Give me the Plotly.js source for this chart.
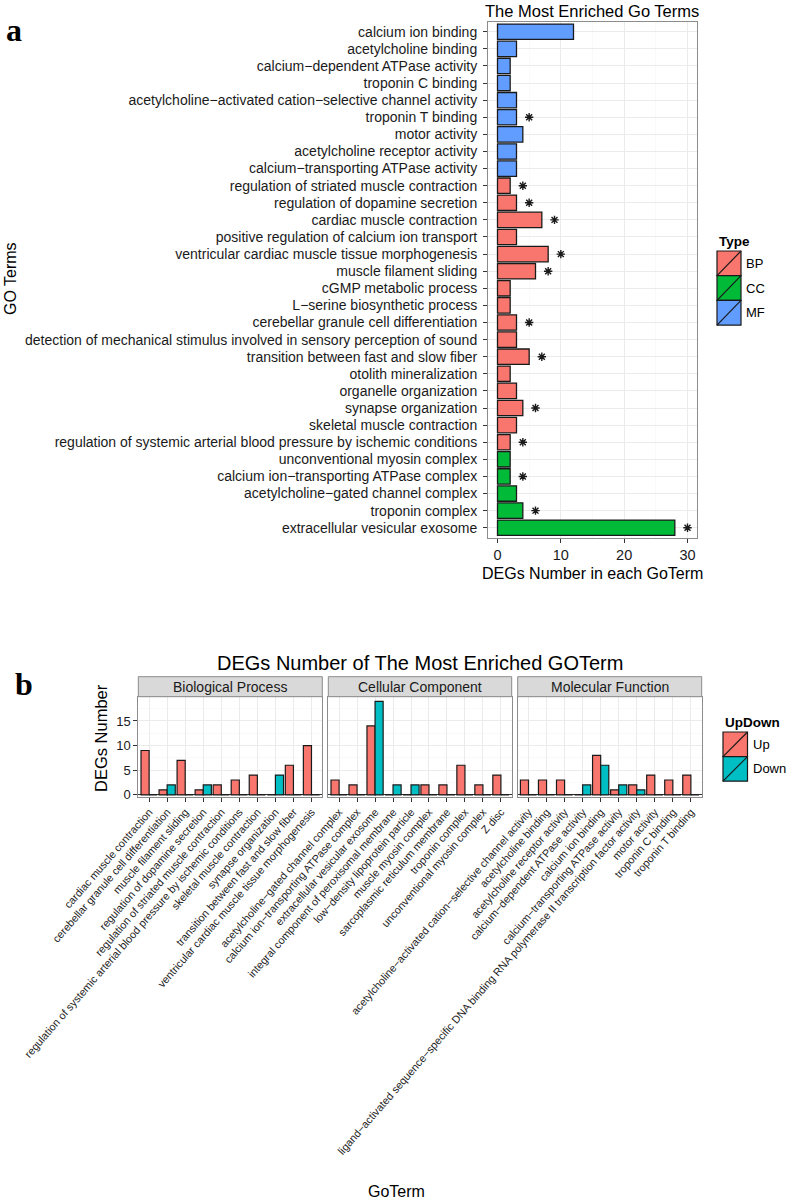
<!DOCTYPE html>
<html><head><meta charset="utf-8">
<script src="https://cdn.plot.ly/plotly-3.0.1.min.js"></script>
<style>html,body{margin:0;padding:0;background:#fff}#chart{width:787px;height:1202px}</style>
</head><body><div id="chart"></div>
<script>
// ---------- Panel a data (top to bottom) ----------
const goTerms = [
  "calcium ion binding",
  "acetylcholine binding",
  "calcium\u2212dependent ATPase activity",
  "troponin C binding",
  "acetylcholine\u2212activated cation\u2212selective channel activity",
  "troponin T binding",
  "motor activity",
  "acetylcholine receptor activity",
  "calcium\u2212transporting ATPase activity",
  "regulation of striated muscle contraction",
  "regulation of dopamine secretion",
  "cardiac muscle contraction",
  "positive regulation of calcium ion transport",
  "ventricular cardiac muscle tissue morphogenesis",
  "muscle filament sliding",
  "cGMP metabolic process",
  "L\u2212serine biosynthetic process",
  "cerebellar granule cell differentiation",
  "detection of mechanical stimulus involved in sensory perception of sound",
  "transition between fast and slow fiber",
  "otolith mineralization",
  "organelle organization",
  "synapse organization",
  "skeletal muscle contraction",
  "regulation of systemic arterial blood pressure by ischemic conditions",
  "unconventional myosin complex",
  "calcium ion\u2212transporting ATPase complex",
  "acetylcholine\u2212gated channel complex",
  "troponin complex",
  "extracellular vesicular exosome"
];
const goCounts = [12,3,2,2,3,3,4,3,3,2,3,7,3,8,6,2,2,3,3,5,2,3,4,3,2,2,2,3,4,28];
const goTypes = ["MF","MF","MF","MF","MF","MF","MF","MF","MF",
  "BP","BP","BP","BP","BP","BP","BP","BP","BP","BP","BP","BP","BP","BP","BP","BP",
  "CC","CC","CC","CC","CC"];
const goSignificant = [0,0,0,0,0,1,0,0,0,1,1,1,0,1,1,0,0,1,0,1,0,0,1,0,1,0,1,0,1,1];
const typeLevels = ["BP","CC","MF"];

// ---------- Panel b data ----------
const bpTerms = [
  "cardiac muscle contraction",
  "cerebellar granule cell differentiation",
  "muscle filament sliding",
  "regulation of dopamine secretion",
  "regulation of striated muscle contraction",
  "regulation of systemic arterial blood pressure by ischemic conditions",
  "skeletal muscle contraction",
  "synapse organization",
  "transition between fast and slow fiber",
  "ventricular cardiac muscle tissue morphogenesis"
];
const bpUp   = [9,1,7,1,2,3,4,0,6,10];
const bpDown = [0,2,0,2,0,0,0,4,0,0];

const ccTerms = [
  "acetylcholine\u2212gated channel complex",
  "calcium ion\u2212transporting ATPase complex",
  "extracellular vesicular exosome",
  "integral component of peroxisomal membrane",
  "low\u2212density lipoprotein particle",
  "muscle myosin complex",
  "sarcoplasmic reticulum membrane",
  "troponin complex",
  "unconventional myosin complex",
  "Z disc"
];
const ccUp   = [3,2,14,0,0,2,2,6,2,4];
const ccDown = [0,0,19,2,2,0,0,0,0,0];

const mfTerms = [
  "acetylcholine\u2212activated cation\u2212selective channel activity",
  "acetylcholine binding",
  "acetylcholine receptor activity",
  "calcium\u2212dependent ATPase activity",
  "calcium ion binding",
  "calcium\u2212transporting ATPase activity",
  "ligand\u2212activated sequence\u2212specific DNA binding RNA polymerase II transcription factor activity",
  "motor activity",
  "troponin C binding",
  "troponin T binding"
];
const mfUp   = [3,3,3,0,8,1,2,4,3,4];
const mfDown = [0,0,0,2,6,2,1,0,0,0];

const facetNames = ["Biological Process","Cellular Component","Molecular Function"];
const upDownLevels = ["Up","Down"];

// ---------- styling ----------
const W = 787, H = 1202;
const fx = p => p / W;
const fy = p => 1 - p / H;
const FONT = "Liberation Sans, Arial, Helvetica, sans-serif";
const typeColor = {BP:"#F8766D", CC:"#00BA38", MF:"#619CFF"};
const udColor = {Up:"#F8766D", Down:"#00BFC4"};
const gridMajor = "#EBEBEB", gridMinor = "#F7F7F7", frameCol = "#8C8C8C";
const txtCol = "#1a1a1a";

const traces = [];

// Panel a bars
traces.push({
  type:"bar", orientation:"h", x: goCounts, y: goTerms,
  xaxis:"x", yaxis:"y",
  marker:{color: goTypes.map(t => typeColor[t]), line:{color:"#1a1a1a", width:1.3}},
  hoverinfo:"x+y", showlegend:false
});
// Panel a significance stars
const starX = [], starY = [];
goSignificant.forEach((s,i) => { if (s) { starX.push(goCounts[i] + 2); starY.push(goTerms[i]); } });
traces.push({
  type:"scatter", mode:"markers", x: starX, y: starY, xaxis:"x", yaxis:"y",
  marker:{symbol:"asterisk-open", size:7, color:"#1a1a1a", line:{color:"#1a1a1a", width:1.4}},
  hoverinfo:"skip", showlegend:false
});

// Panel b bars
const facets = [
  {terms:bpTerms, up:bpUp, down:bpDown, xa:"x2", ya:"y2"},
  {terms:ccTerms, up:ccUp, down:ccDown, xa:"x3", ya:"y3"},
  {terms:mfTerms, up:mfUp, down:mfDown, xa:"x4", ya:"y4"}
];
facets.forEach(f => {
  traces.push({type:"bar", name:"Up", x:f.terms, y:f.up, xaxis:f.xa, yaxis:f.ya,
    marker:{color:udColor.Up, line:{color:"#1a1a1a", width:1.2}}, showlegend:false, offsetgroup:"Up"});
  traces.push({type:"bar", name:"Down", x:f.terms, y:f.down, xaxis:f.xa, yaxis:f.ya,
    marker:{color:udColor.Down, line:{color:"#1a1a1a", width:1.2}}, showlegend:false, offsetgroup:"Down"});
});

// ---------- axes ----------
const baseAxis = {
  showline:true, mirror:true, linecolor:frameCol, linewidth:1,
  ticks:"outside", ticklen:4, tickcolor:"#333", tickwidth:1,
  showgrid:true, gridcolor:gridMajor, gridwidth:1, zeroline:false,
  automargin:false, fixedrange:true
};

const layout = {
  width:W, height:H, margin:{l:0,r:0,t:0,b:0},
  paper_bgcolor:"#fff", plot_bgcolor:"#fff",
  font:{family:FONT, color:txtCol},
  barmode:"group", bargap:0.1, bargroupgap:0,
  showlegend:false,
  xaxis: Object.assign({}, baseAxis, {
    domain:[fx(488), fx(697)], anchor:"y", range:[-1.5, 31.5],
    tickmode:"array", tickvals:[0,10,20,30],
    tickfont:{size:14.5, color:txtCol},
    minor:{tickmode:"array", tickvals:[5,15,25], showgrid:true, gridcolor:gridMinor, gridwidth:0.6, ticks:""}
  }),
  yaxis: Object.assign({}, baseAxis, {
    domain:[fy(538), fy(21.5)], anchor:"x", type:"category",
    categoryorder:"array", categoryarray:goTerms, range:[29.6, -0.6],
    tickmode:"linear", dtick:1, tick0:0, ticklabelstandoff:3,
    tickfont:{size:14, color:txtCol}
  }),
  annotations:[], shapes:[]
};

const facetDomains = [[138.3,322.3],[328.3,511.7],[517.7,701.7]];
facets.forEach((f,i) => {
  layout["xaxis" + (i+2)] = Object.assign({}, baseAxis, {
    domain:[fx(facetDomains[i][0]), fx(facetDomains[i][1])], anchor:"y"+(i+2),
    type:"category", categoryorder:"array", categoryarray:f.terms,
    range:[-0.6, 9.6], tickmode:"linear", dtick:1, tick0:0,
    tickangle:-49, tickfont:{size:10.8, color:txtCol}
  });
  layout["yaxis" + (i+2)] = Object.assign({}, baseAxis, {
    domain:[fy(796.5), fy(696.7)], anchor:"x"+(i+2), range:[-0.35, 19.93],
    tickmode:"array", tickvals:[0,5,10,15],
    showticklabels: i === 0, ticks: i === 0 ? "outside" : "",
    tickfont:{size:13, color:txtCol},
    zeroline:true, zerolinecolor:"#333", zerolinewidth:1.2,
    minor:{tickmode:"array", tickvals:[2.5,7.5,12.5,17.5], showgrid:true, gridcolor:gridMinor, gridwidth:0.6, ticks:""}
  });
  // strip
  layout.shapes.push({type:"rect", xref:"paper", yref:"paper",
    x0:fx(facetDomains[i][0]), x1:fx(facetDomains[i][1]), y0:fy(696.7), y1:fy(676.7),
    fillcolor:"#D9D9D9", line:{color:frameCol, width:1}});
  layout.annotations.push({xref:"paper", yref:"paper",
    x:fx((facetDomains[i][0]+facetDomains[i][1])/2), y:fy(687),
    text:facetNames[i], showarrow:false, xanchor:"center", yanchor:"middle",
    font:{size:14, color:txtCol}});
});

// ---------- titles (annotations) ----------
const A = layout.annotations;
A.push({xref:"paper", yref:"paper", x:fx(592), y:fy(11), text:"The Most Enriched Go Terms",
  showarrow:false, xanchor:"center", yanchor:"middle", font:{size:16.5, color:"#000"}});
A.push({xref:"paper", yref:"paper", x:fx(592), y:fy(573), text:"DEGs Number in each GoTerm",
  showarrow:false, xanchor:"center", yanchor:"middle", font:{size:16, color:"#000"}});
A.push({xref:"paper", yref:"paper", x:fx(10), y:fy(279), text:"GO Terms", textangle:-90,
  showarrow:false, xanchor:"center", yanchor:"middle", font:{size:16, color:"#000"}});
A.push({xref:"paper", yref:"paper", x:fx(420), y:fy(663), text:"DEGs Number of The Most Enriched GOTerm",
  showarrow:false, xanchor:"center", yanchor:"middle", font:{size:20, color:"#000"}});
A.push({xref:"paper", yref:"paper", x:fx(101), y:fy(738), text:"DEGs Number", textangle:-90,
  showarrow:false, xanchor:"center", yanchor:"middle", font:{size:16.5, color:"#000"}});
A.push({xref:"paper", yref:"paper", x:fx(396), y:fy(1191), text:"GoTerm",
  showarrow:false, xanchor:"center", yanchor:"middle", font:{size:16, color:"#000"}});
A.push({xref:"paper", yref:"paper", x:fx(4), y:fy(10), text:"<b>a</b>",
  showarrow:false, xanchor:"left", yanchor:"top", font:{size:32, color:"#000", family:"Liberation Serif, Times New Roman, serif"}});
A.push({xref:"paper", yref:"paper", x:fx(13), y:fy(664), text:"<b>b</b>",
  showarrow:false, xanchor:"left", yanchor:"top", font:{size:32, color:"#000", family:"Liberation Serif, Times New Roman, serif"}});

// ---------- manual legends ----------
function legend(title, levels, colors, x0, yTitle, yTop, boxW, boxH) {
  A.push({xref:"paper", yref:"paper", x:fx(x0), y:fy(yTitle), text:"<b>"+title+"</b>",
    showarrow:false, xanchor:"left", yanchor:"middle", font:{size:13.5, color:"#000"}});
  levels.forEach((lv,i) => {
    const y0 = yTop + i*boxH, y1 = y0 + boxH;
    layout.shapes.push({type:"rect", xref:"paper", yref:"paper",
      x0:fx(x0), x1:fx(x0+boxW), y0:fy(y1), y1:fy(y0),
      fillcolor:colors[lv], line:{color:"#1a1a1a", width:1.2}});
    layout.shapes.push({type:"line", xref:"paper", yref:"paper",
      x0:fx(x0), x1:fx(x0+boxW), y0:fy(y1), y1:fy(y0),
      line:{color:"#1a1a1a", width:1.2}});
    A.push({xref:"paper", yref:"paper", x:fx(x0+boxW+3), y:fy((y0+y1)/2), text:lv,
      showarrow:false, xanchor:"left", yanchor:"middle", font:{size:13, color:"#000"}});
  });
}
legend("Type", typeLevels, typeColor, 717, 241, 251, 24, 24.7);
legend("UpDown", upDownLevels, udColor, 723, 722, 732, 24.5, 24.6);

Plotly.newPlot("chart", traces, layout, {displayModeBar:false, staticPlot:true});
</script>
</body></html>
